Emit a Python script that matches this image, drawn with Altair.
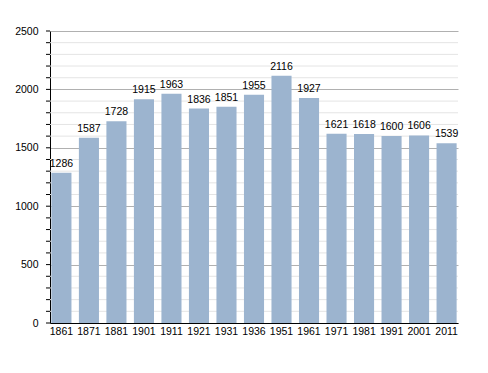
import altair as alt
import pandas as pd

years = ["1861", "1871", "1881", "1901", "1911", "1921", "1931", "1936",
         "1951", "1961", "1971", "1981", "1991", "2001", "2011"]
population = [1286, 1587, 1728, 1915, 1963, 1836, 1851, 1955,
              2116, 1927, 1621, 1618, 1600, 1606, 1539]
major_ticks = [0, 500, 1000, 1500, 2000, 2500]
minor_ticks = [v for v in range(100, 2500, 100) if v % 500 != 0]
all_ticks = list(range(0, 2600, 100))

df = pd.DataFrame({"year": years, "pop": population})
minor_df = pd.DataFrame({"v": minor_ticks})
tick_df = pd.DataFrame({"v": all_ticks})

FONT = "Liberation Sans"
FS = 10.5
yscale = alt.Scale(domain=[0, 2500], nice=False)
yaxis = alt.Axis(values=major_ticks, grid=True, gridColor="#b0b0b0",
                 domainColor="#000000", ticks=False, format="d",
                 labelFont=FONT, labelFontSize=FS, labelColor="#000000",
                 labelPadding=12)

minor_grid = alt.Chart(minor_df).mark_rule(color="#e4e4e4", strokeWidth=1).encode(
    y=alt.Y("v:Q", scale=yscale, axis=yaxis, title=None)
)

minor_axis_ticks = alt.Chart(tick_df).mark_rule(color="#000000", strokeWidth=1).encode(
    y=alt.Y("v:Q", scale=yscale, axis=yaxis, title=None),
    x=alt.value(-4),
    x2=alt.value(0),
)

bars = alt.Chart(df).mark_bar(color="#9cb4cf").encode(
    x=alt.X("year:N", sort=years, title=None,
            scale=alt.Scale(paddingInner=0.27, paddingOuter=0.05),
            axis=alt.Axis(labelAngle=0, ticks=False, domainColor="#000000",
                          labelFont=FONT, labelFontSize=FS, labelColor="#000000",
                          labelPadding=3)),
    y=alt.Y("pop:Q", scale=yscale, title=None, axis=yaxis),
)

labels = alt.Chart(df).mark_text(dy=-9, font=FONT, fontSize=FS, color="#000000").encode(
    x=alt.X("year:N", sort=years),
    y=alt.Y("pop:Q", scale=yscale, axis=yaxis, title=None),
    text=alt.Text("pop:Q", format="d"),
)

chart = alt.layer(minor_grid, bars, minor_axis_ticks, labels).properties(
    width=408, height=292, padding={"left": 6, "top": 18, "right": 5, "bottom": 5}
).configure_view(stroke=None)

chart.save("out.html", embed_options={"renderer": "svg", "actions": False})
